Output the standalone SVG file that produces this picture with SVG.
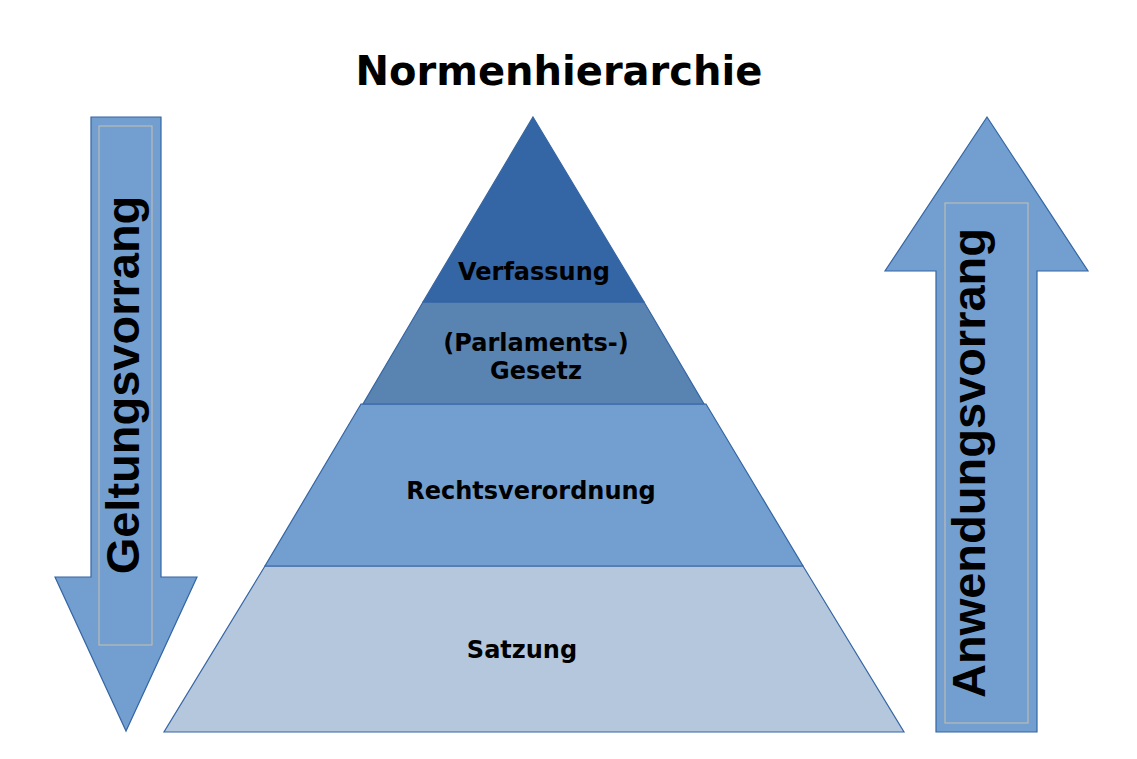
<svg xmlns="http://www.w3.org/2000/svg" width="1137" height="759" viewBox="0 0 1137 759">
<style>
.arrow{fill:#729fcf;stroke:#3465a4;stroke-width:1.2}
.inner{fill:none;stroke:#c9c1b0;stroke-width:1}
.layer{stroke:#3465a4;stroke-width:1.2}
.lbl{font-family:"DejaVu Sans",sans-serif;font-weight:bold;font-size:24px;fill:#000;text-anchor:middle}
.vert{font-family:"Liberation Sans",Arial,sans-serif;font-weight:bold;font-size:47px;fill:#000;text-anchor:middle}
.title{font-family:"DejaVu Sans",sans-serif;font-weight:bold;font-size:40px;fill:#000;text-anchor:middle}
</style>
<rect width="1137" height="759" fill="#ffffff"/>
<text class="title" x="559" y="85">Normenhierarchie</text>
<g id="geltungsvorrang">
<polygon class="arrow" points="91,117 161,117 161,577 197,577 126,731 55,577 91,577"/>
<rect class="inner" x="99" y="126" width="53" height="519"/>
<text class="vert" transform="translate(139,385) rotate(-90)">Geltungsvorrang</text>
</g>
<g id="anwendungsvorrang">
<polygon class="arrow" points="987,117 1088,271 1037,271 1037,732 936,732 936,271 885,271"/>
<rect class="inner" x="945" y="203" width="83" height="520"/>
<text class="vert" transform="translate(985,463) rotate(-90)">Anwendungsvorrang</text>
</g>
<g id="satzung">
<polygon class="layer" fill="#b4c7dc" points="265,566 803,566 904,732 164,732"/>
<text class="lbl" x="522" y="658">Satzung</text>
</g>
<g id="rechtsverordnung">
<polygon class="layer" fill="#729fcf" points="361,404 706,404 803,566 265,566"/>
<text class="lbl" x="531" y="499">Rechtsverordnung</text>
</g>
<g id="gesetz">
<polygon class="layer" fill="#5983b0" points="423,302 644,302 704,404 363,404"/>
<text class="lbl" x="536" y="351">(Parlaments-)</text>
<text class="lbl" x="536" y="379">Gesetz</text>
</g>
<g id="verfassung">
<polygon class="layer" fill="#3465a4" points="533,117 644,302 423,302"/>
<text class="lbl" x="534" y="280">Verfassung</text>
</g>
</svg>
